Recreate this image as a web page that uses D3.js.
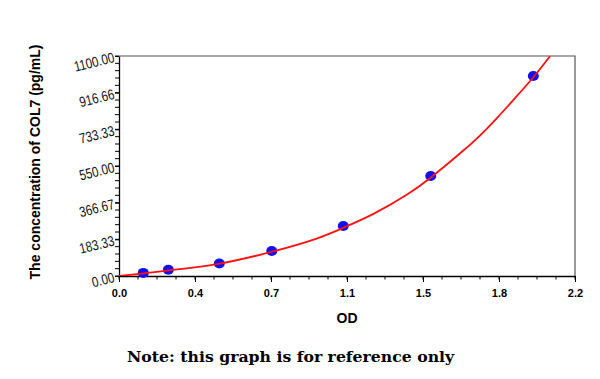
<!DOCTYPE html>
<html>
<head>
<meta charset="utf-8">
<script src="https://cdn.jsdelivr.net/npm/d3@7"></script>
<style>
  html, body { margin: 0; padding: 0; background: #fff; }
  svg { display: block; }
</style>
</head>
<body>
<svg id="chart" width="600" height="379"></svg>
<script>
// ---- data ----
const pointOD   = [0.117, 0.238, 0.484, 0.737, 1.082, 1.504, 1.999];
const pointConc = [15.625, 31.25, 62.5, 125, 250, 500, 1000];

// fitted curve
const curveOD   = [0, 0.12, 0.24, 0.48, 0.74, 0.95, 1.08, 1.23, 1.39, 1.50, 1.58, 1.66, 1.74, 1.82, 1.90, 2.00, 2.08];
const curveConc = [0, 13, 28, 61, 122, 186, 240, 312, 407, 489, 556, 626, 701, 786, 877, 995, 1100];

const xTickValues = [0, 0.36667, 0.73333, 1.1, 1.46667, 1.83333, 2.2];
const xTickLabels = ["0.0", "0.4", "0.7", "1.1", "1.5", "1.8", "2.2"];
const yTickValues = [0, 183.333, 366.667, 550, 733.333, 916.667, 1100];
const yTickLabels = ["0.00", "183.33", "366.67", "550.00", "733.33", "916.66", "1100.00"];

const xTitle = "OD";
const yTitle = "The concentration of COL7 (pg/mL)";
const note = "Note: this graph is for reference only";

// ---- layout ----
const svg = d3.select("#chart");
const L = 119, R = 575, T = 56, B = 276;

const x = d3.scaleLinear().domain([0, 2.2]).range([L, R]);
const y = d3.scaleLinear().domain([0, 1100]).range([B, T]);

svg.append("rect").attr("width", 600).attr("height", 379).attr("fill", "#fff");

// frame (top/right)
svg.append("path")
  .attr("d", `M${L},${T}H${R}V${B}`)
  .attr("fill", "none").attr("stroke", "#555").attr("stroke-width", 1.2);

// minor ticks
const xMinor = d3.range(0, 25).map(i => i * 2.2 / 24);
const yMinor = d3.range(0, 31).map(i => i * 1100 / 30);

const gx = svg.append("g").attr("transform", `translate(0,${B})`);
gx.append("g").selectAll("line").data(xMinor).join("line")
  .attr("x1", d => x(d)).attr("x2", d => x(d))
  .attr("y1", 0).attr("y2", 3.5)
  .attr("stroke", "#000").attr("stroke-width", 1);
gx.call(d3.axisBottom(x).tickValues(xTickValues)
    .tickFormat((d, i) => xTickLabels[i]).tickSize(6).tickSizeOuter(0))
  .call(g => g.select(".domain").attr("stroke", "#000").attr("stroke-width", 1.3))
  .call(g => g.selectAll(".tick line").attr("stroke", "#000"))
  .call(g => g.selectAll(".tick text")
    .attr("font-family", "Liberation Sans, Arial, sans-serif")
    .attr("font-weight", "bold").attr("font-size", 11)
    .attr("fill", "#000").attr("y", 13).attr("dy", "0.71em"));

const gy = svg.append("g").attr("transform", `translate(${L},0)`);
gy.append("g").selectAll("line").data(yMinor).join("line")
  .attr("x1", -4).attr("x2", 0)
  .attr("y1", d => y(d)).attr("y2", d => y(d))
  .attr("stroke", "#000").attr("stroke-width", 1);
gy.call(d3.axisLeft(y).tickValues(yTickValues)
    .tickFormat((d, i) => yTickLabels[i]).tickSize(4).tickSizeOuter(0))
  .call(g => g.select(".domain").attr("stroke", "#000").attr("stroke-width", 1.3))
  .call(g => g.selectAll(".tick line").attr("stroke", "#000"))
  .call(g => g.selectAll(".tick text").remove());

// rotated, condensed y tick labels
svg.append("g").selectAll("text").data(yTickValues).join("text")
  .attr("transform", d => `translate(${L - 5},${y(d) + 1}) rotate(-14) scale(0.8,1)`)
  .attr("text-anchor", "end")
  .attr("dy", "0.35em")
  .attr("font-family", "Liberation Sans, Arial, sans-serif")
  .attr("font-size", 14.5)
  .attr("fill", "#111")
  .text((d, i) => yTickLabels[i]);

// clip
svg.append("clipPath").attr("id", "plotclip")
  .append("rect").attr("x", L).attr("y", T).attr("width", R - L).attr("height", B - T);

// points
const pts = pointOD.map((d, i) => ({ od: d, c: pointConc[i] }));
svg.append("g").selectAll("ellipse").data(pts).join("ellipse")
  .attr("cx", d => x(d.od)).attr("cy", d => y(d.c))
  .attr("rx", 5.5).attr("ry", 5)
  .attr("fill", "#1010f0");

// curve
const cdata = curveOD.map((d, i) => ({ od: d, c: curveConc[i] }));
svg.append("path")
  .datum(cdata)
  .attr("clip-path", "url(#plotclip)")
  .attr("d", d3.line().x(d => x(d.od)).y(d => y(d.c)).curve(d3.curveNatural))
  .attr("fill", "none").attr("stroke", "#ff1010").attr("stroke-width", 1.8);

// axis titles
svg.append("text")
  .attr("x", (L + R) / 2).attr("y", 323)
  .attr("text-anchor", "middle")
  .attr("font-family", "Liberation Sans, Arial, sans-serif")
  .attr("font-weight", "bold").attr("font-size", 14)
  .attr("fill", "#000")
  .text(xTitle);

svg.append("text")
  .attr("transform", `translate(40,162) rotate(-90)`)
  .attr("text-anchor", "middle")
  .attr("font-family", "Liberation Sans, Arial, sans-serif")
  .attr("font-weight", "bold").attr("font-size", 14)
  .attr("fill", "#000")
  .text(yTitle);

// note
svg.append("text")
  .attr("x", 127).attr("y", 362)
  .attr("font-family", "DejaVu Serif, serif")
  .attr("font-weight", "bold").attr("font-size", 15.7)
  .attr("fill", "#000")
  .text(note);
</script>
</body>
</html>
